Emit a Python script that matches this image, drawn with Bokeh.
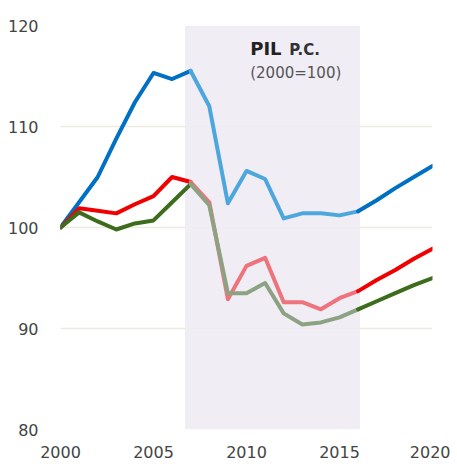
from bokeh.plotting import figure
from bokeh.models import Label, FixedTicker, BoxAnnotation
from bokeh.embed import file_html
from bokeh.resources import INLINE

years = list(range(2000, 2021))
blue = [100, 102.5, 105.0, 108.8, 112.4, 115.3, 114.7, 115.5, 112.0, 102.4,
        105.6, 104.8, 100.9, 101.4, 101.4, 101.2, 101.6, 102.7, 103.9, 105.0, 106.1]
red = [100, 101.9, 101.65, 101.4, 102.3, 103.1, 105.0, 104.5, 102.5, 92.9,
       96.2, 97.0, 92.6, 92.6, 91.9, 93.0, 93.7, 94.8, 95.8, 96.9, 97.9]
green = [100, 101.5, 100.6, 99.8, 100.4, 100.7, 102.5, 104.3, 102.2, 93.5,
         93.5, 94.5, 91.5, 90.4, 90.6, 91.1, 91.9, 92.7, 93.5, 94.3, 95.0]

shade_start, shade_end = 2006.7, 2016.1
split_a, split_b = 7, 16   # indices of 2007 and 2016

x_ticks = [2000, 2005, 2010, 2015, 2020]
y_ticks = [80, 90, 100, 110, 120]

series = [
    (blue, "#0070C4", "#4DA7DD"),
    (red, "#F00000", "#EE737C"),
    (green, "#3C6C1C", "#8CA282"),
]

FONT = "DejaVu Sans"

p = figure(width=450, height=460, x_range=(2000, 2020), y_range=(80, 120),
           output_backend="svg", toolbar_location=None,
           min_border_left=60, min_border_right=18, min_border_top=25,
           min_border_bottom=28)
p.outline_line_color = None
p.background_fill_color = "white"

p.add_layout(BoxAnnotation(left=shade_start, right=shade_end, bottom=80, top=120,
                           fill_color="#EEEBF4", fill_alpha=0.9, line_color=None,
                           level="underlay"))

for vals, dark, light in series:
    p.line(years[:split_a + 1], vals[:split_a + 1], line_color=dark, line_width=4,
           line_join="round", line_cap="round")
    p.line(years[split_a:split_b + 1], vals[split_a:split_b + 1], line_color=light,
           line_width=4, line_join="round", line_cap="round")
    p.line(years[split_b:], vals[split_b:], line_color=dark, line_width=4,
           line_join="round", line_cap="round")

p.xgrid.grid_line_color = None
p.ygrid.grid_line_color = "#ECEBE0"
p.ygrid.grid_line_width = 1.5

p.xaxis.ticker = FixedTicker(ticks=x_ticks)
p.yaxis.ticker = FixedTicker(ticks=y_ticks)
for ax in (p.xaxis, p.yaxis):
    ax.axis_line_color = None
    ax.major_tick_line_color = None
    ax.minor_tick_line_color = None
    ax.major_label_text_font = FONT
    ax.major_label_text_font_size = "16px"
    ax.major_label_text_color = "#444444"
p.xaxis.major_label_standoff = 10
p.yaxis.major_label_standoff = 16

p.add_layout(Label(x=2010.2, y=118.8, text="PIL", text_font=FONT,
                   text_font_size="18px", text_font_style="bold",
                   text_color="#222222", text_baseline="top"))
p.add_layout(Label(x=2012.3, y=118.5, text="P.C.", text_font=FONT,
                   text_font_size="15px", text_font_style="bold",
                   text_color="#333333", text_baseline="top"))
p.add_layout(Label(x=2010.2, y=116.2, text="(2000=100)", text_font=FONT,
                   text_font_size="15px", text_color="#555555",
                   text_baseline="top"))

open("out.html", "w").write(file_html(p, INLINE))
